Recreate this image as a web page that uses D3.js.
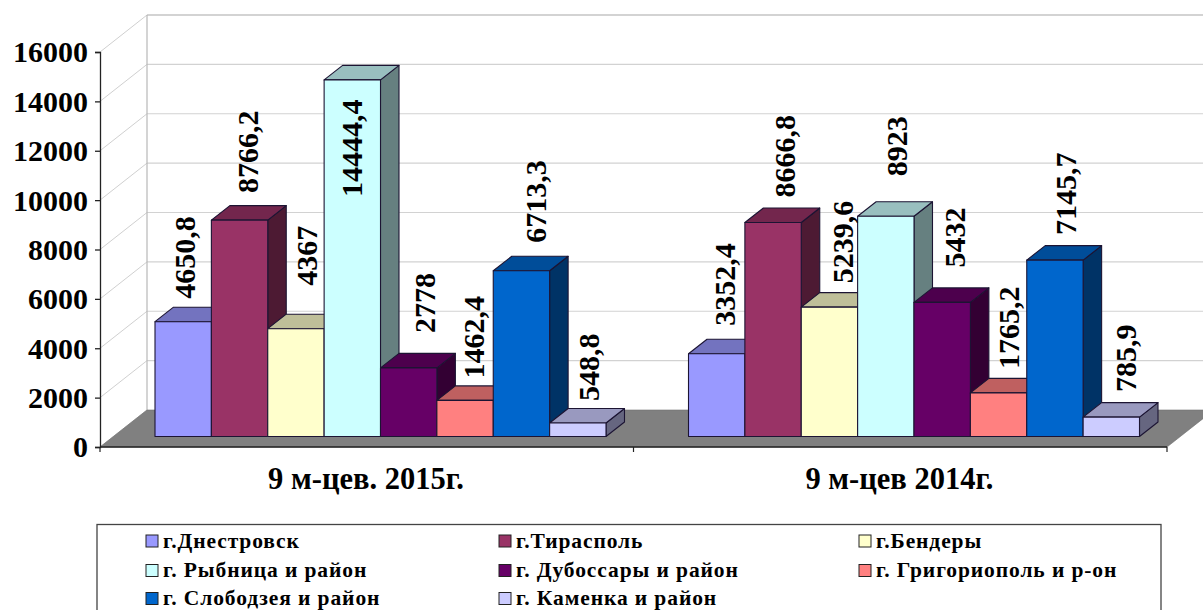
<!DOCTYPE html>
<html><head><meta charset="utf-8">
<script src="https://cdn.jsdelivr.net/npm/d3@7/dist/d3.min.js"></script>
<style>html,body{margin:0;padding:0;background:#fff;overflow:hidden}svg{display:block}
text{font-family:"Liberation Serif",serif;font-weight:bold;fill:#000}</style></head>
<body><svg id="c" width="1203" height="610"></svg>
<script>
const periods = ["9 м-цев. 2015г.", "9 м-цев 2014г."];
const seriesNames = ["г.Днестровск","г.Тирасполь","г.Бендеры","г. Рыбница и район","г. Дубоссары и район","г. Григориополь и р-он","г. Слободзея и район","г. Каменка и район"];
const values2015 = [4650.8, 8766.2, 4367, 14444.4, 2778, 1462.4, 6713.3, 548.8];
const values2014 = [3352.4, 8666.8, 5239.6, 8923, 5432, 1765.2, 7145.7, 785.9];
const valueLabels2015 = ["4650,8","8766,2","4367","14444,4","2778","1462,4","6713,3","548,8"];
const valueLabels2014 = ["3352,4","8666,8","5239,6","8923","5432","1765,2","7145,7","785,9"];
const yTicks = [0,2000,4000,6000,8000,10000,12000,14000,16000];
const colors = ["#9999ff","#993366","#ffffcc","#ccffff","#660066","#ff8080","#0066cc","#ccccff"];
// hand placement of the rotated labels: gap above the bar, and baseline offset from the bar's left edge
const labelGap2015 = [23,27,43,-117,35,22,28,22];
const labelGap2014 = [28,25,24,40,35,24,25,25];
const labelX2015 = [40,46.5,49,37.5,54,47.5,53,49.5];
const labelX2014 = [46.5,50,51.5,49,50.5,49,49.5,53];

const svg = d3.select("#c");
const front = {x0:100, x1:1167, y0:447, y1:52};
const depth = {dx:47, dy:-37};
const y = d3.scaleLinear().domain([0,16000]).range([front.y0, front.y1]);
const xGroup = d3.scaleBand().domain(periods).range([front.x0, front.x1]);
const barDx = 18.5, barDy = -14.5, baseShift = -10.5;

// back wall + side wall
const wall = svg.append("g");
yTicks.forEach(t=>{
  const yy = y(t);
  if(t>0){
    wall.append("line").attr("x1",front.x0+depth.dx).attr("x2",1203).attr("y1",yy+depth.dy).attr("y2",yy+depth.dy)
      .attr("stroke",t===16000?"#a8a8a8":"#d2d2d2").attr("stroke-width",1.2);
  }
  wall.append("line").attr("x1",front.x0).attr("x2",front.x0+depth.dx).attr("y1",yy).attr("y2",yy+depth.dy)
      .attr("stroke","#d0d0d0").attr("stroke-width",1);
});
wall.append("line").attr("x1",front.x0+depth.dx).attr("x2",front.x0+depth.dx).attr("y1",y(0)+depth.dy).attr("y2",y(16000)+depth.dy)
    .attr("stroke","#b8b8b8").attr("stroke-width",1.2);

// floor
svg.append("path").attr("fill","#808080").attr("stroke","#6e6e6e").attr("stroke-width",0.6)
  .attr("d",`M${front.x0},${y(0)}L${front.x0+depth.dx},${y(0)+depth.dy}L${front.x1+depth.dx},${y(0)+depth.dy}L${front.x1},${y(0)}Z`);

// axes
const axisY = d3.axisLeft(y).tickValues(yTicks).tickSize(5).tickFormat(d=>d);
const gy = svg.append("g").attr("transform",`translate(${front.x0},0)`).call(axisY);
gy.selectAll("path,line").attr("stroke","#222").attr("stroke-width",1.3);
gy.selectAll("text").attr("x",-12).attr("dy","0.34em").style("font-size","29px").attr("lengthAdjust","spacingAndGlyphs")
  .each(function(d){ d3.select(this).attr("textLength", String(d).length*15); });
svg.append("line").attr("x1",front.x0).attr("x2",front.x1).attr("y1",y(0)).attr("y2",y(0)).attr("stroke","#222").attr("stroke-width",1.3);
[front.x0,(front.x0+front.x1)/2,front.x1].forEach(x=>svg.append("line").attr("x1",x).attr("x2",x).attr("y1",y(0)).attr("y2",y(0)+5).attr("stroke","#222").attr("stroke-width",1.2));
periods.forEach(p=>svg.append("text").attr("x",xGroup(p)+xGroup.bandwidth()/2-0.8).attr("y",489).attr("text-anchor","middle").style("font-size","30.5px").text(p));

// bars
const inner = d3.scaleBand().domain(d3.range(8)).range([55,506]);
const shade = (c,k)=>{ const r=d3.rgb(c); return d3.rgb(r.r*k,r.g*k,r.b*k).formatHex(); };
function drawGroup(period, vals, labs, gaps, lx){
  const g = svg.append("g");
  const x0 = xGroup(period);
  const w = inner.bandwidth();
  const yb = y(0)+baseShift;
  const top = v => yb-(y(0)-y(v));
  vals.forEach((v,i)=>{
    const bx = x0+inner(i), yt = top(v);
    const paint = (s,f)=>g.append("path").attr("d",s).attr("fill",f).attr("stroke","#1c1433").attr("stroke-width",1.1).attr("stroke-linejoin","round");
    paint(`M${bx+w},${yb}L${bx+w+barDx},${yb+barDy}L${bx+w+barDx},${yt+barDy}L${bx+w},${yt}Z`, shade(colors[i],0.5));
    paint(`M${bx},${yt}L${bx+barDx},${yt+barDy}L${bx+w+barDx},${yt+barDy}L${bx+w},${yt}Z`, shade(colors[i],0.75));
    paint(`M${bx},${yb}L${bx},${yt}L${bx+w},${yt}L${bx+w},${yb}Z`, colors[i]);
  });
  vals.forEach((v,i)=>{
    g.append("text").attr("transform",`translate(${x0+inner(i)+lx[i]},${top(v)-gaps[i]}) rotate(-90)`).style("font-size","30px").text(labs[i]);
  });
}
drawGroup(periods[0], values2015, valueLabels2015, labelGap2015, labelX2015);
drawGroup(periods[1], values2014, valueLabels2014, labelGap2014, labelX2014);

// legend
const legend = svg.append("g");
legend.append("rect").attr("x",97).attr("y",524.5).attr("width",1064).attr("height",95).attr("fill","#fff").attr("stroke","#444").attr("stroke-width",1.3);
const colX = [146,499,859], rowY = [541,570.5,598.5];
seriesNames.forEach((n,i)=>{
  const cx = colX[i%3], cy = rowY[Math.floor(i/3)];
  legend.append("rect").attr("x",cx).attr("y",cy-6).attr("width",12).attr("height",12).attr("fill",colors[i]).attr("stroke","#222").attr("stroke-width",1);
  legend.append("text").attr("x",cx+17).attr("y",cy+6.5).style("font-size","21.5px").style("letter-spacing","0.9px").text(n);
});
</script></body></html>
